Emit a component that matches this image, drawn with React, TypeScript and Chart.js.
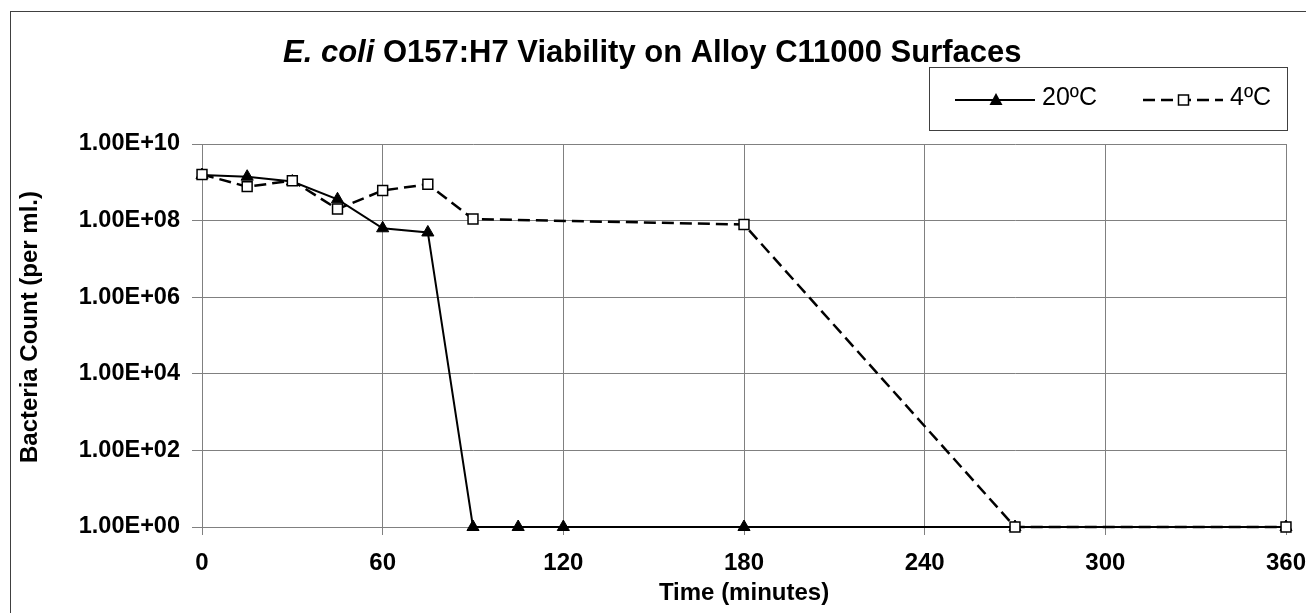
import React, { useEffect, useRef } from "react";
import { Chart, registerables } from "chart.js";

Chart.register(...registerables);

// ---- data ----
const time20 = [0, 15, 30, 45, 60, 75, 90, 105, 120, 180, 270, 360];
const count20 = [1.55e9, 1.4e9, 1.05e9, 3.6e8, 6.3e7, 4.9e7, 1, 1, 1, 1, 1, 1];
const time4 = [0, 15, 30, 45, 60, 75, 90, 180, 270, 360];
const count4 = [1.6e9, 7.7e8, 1.1e9, 2.0e8, 6.1e8, 8.9e8, 1.1e8, 7.9e7, 1, 1];

const seriesNames = ["20ºC", "4ºC"];
const xTickValues = [0, 60, 120, 180, 240, 300, 360];
const yTickValues = [1, 1e2, 1e4, 1e6, 1e8, 1e10];
const yTickLabels = ["1.00E+00", "1.00E+02", "1.00E+04", "1.00E+06", "1.00E+08", "1.00E+10"];

const titleItalic = "E. coli";
const titleRest = " O157:H7 Viability on Alloy C11000 Surfaces";
const xTitle = "Time (minutes)";
const yTitle = "Bacteria Count (per ml.)";

const FAMILY = "'Liberation Sans', Arial, Helvetica, sans-serif";
const GRID = "#808080";

const W = 1306;
const H = 613;

const decorPlugin = {
  id: "decor",
  afterDraw(chart: any) {
    const ctx = chart.ctx as CanvasRenderingContext2D;
    ctx.save();
    // outer frame
    ctx.strokeStyle = "#404040";
    ctx.lineWidth = 1;
    ctx.strokeRect(10.5, 11.5, W + 20, H + 20);

    // title
    ctx.fillStyle = "#000";
    ctx.textBaseline = "alphabetic";
    ctx.textAlign = "left";
    ctx.font = `italic bold 31px ${FAMILY}`;
    const w1 = ctx.measureText(titleItalic).width;
    ctx.fillText(titleItalic, 283, 61.5);
    ctx.font = `bold 31px ${FAMILY}`;
    ctx.fillText(titleRest, 283 + w1, 61.5);

    // y-axis title
    ctx.save();
    ctx.translate(30.5, 327);
    ctx.rotate(-Math.PI / 2);
    ctx.textAlign = "center";
    ctx.textBaseline = "middle";
    ctx.font = `bold 24px ${FAMILY}`;
    ctx.fillText(yTitle, 0, 0);
    ctx.restore();

    // legend box
    ctx.fillStyle = "#fff";
    ctx.fillRect(929.5, 67.5, 358, 63);
    ctx.strokeStyle = "#404040";
    ctx.lineWidth = 1;
    ctx.strokeRect(929.5, 67.5, 358, 63);

    const ly = 100;
    // item 1: solid + triangle
    ctx.strokeStyle = "#000";
    ctx.lineWidth = 2;
    ctx.setLineDash([]);
    ctx.beginPath();
    ctx.moveTo(955, ly);
    ctx.lineTo(1035, ly);
    ctx.stroke();
    ctx.fillStyle = "#000";
    ctx.beginPath();
    ctx.moveTo(996, ly - 7);
    ctx.lineTo(1002.5, ly + 5);
    ctx.lineTo(989.5, ly + 5);
    ctx.closePath();
    ctx.fill();
    ctx.font = `25px ${FAMILY}`;
    ctx.textBaseline = "alphabetic";
    ctx.textAlign = "left";
    ctx.fillText(seriesNames[0], 1042, 105);

    // item 2: dashed + square
    ctx.lineWidth = 2.5;
    ctx.setLineDash([12, 6]);
    ctx.beginPath();
    ctx.moveTo(1143, ly);
    ctx.lineTo(1223, ly);
    ctx.stroke();
    ctx.setLineDash([]);
    ctx.fillStyle = "#fff";
    ctx.fillRect(1178.5, ly - 5, 10, 10);
    ctx.lineWidth = 1.5;
    ctx.strokeRect(1178.5, ly - 5, 10, 10);
    ctx.fillStyle = "#000";
    ctx.fillText(seriesNames[1], 1230, 105);

    ctx.restore();
  },
};

export default function App() {
  const ref = useRef<HTMLCanvasElement | null>(null);

  useEffect(() => {
    if (!ref.current) return;
    const chart = new Chart(ref.current, {
      type: "line",
      data: {
        datasets: [
          {
            label: seriesNames[1],
            data: time4.map((x, i) => ({ x, y: count4[i] })),
            borderColor: "#000",
            borderWidth: 2.5,
            borderDash: [12, 6],
            pointStyle: "rect",
            pointRadius: 7,
            pointBackgroundColor: "#fff",
            pointBorderColor: "#000",
            pointBorderWidth: 1.5,
            tension: 0,
            clip: false,
            order: 0,
          } as any,
          {
            label: seriesNames[0],
            data: time20.map((x, i) => ({ x, y: count20[i] })),
            borderColor: "#000",
            borderWidth: 2,
            pointStyle: "triangle",
            pointRadius: 7,
            pointBackgroundColor: "#000",
            pointBorderColor: "#000",
            pointBorderWidth: 1,
            tension: 0,
            clip: false,
            order: 1,
          } as any,
        ],
      },
      options: {
        animation: false,
        responsive: false,
        devicePixelRatio: 1,
        layout: { padding: { top: 144, right: 20, bottom: 0, left: 0 } },
        plugins: {
          legend: { display: false },
          tooltip: { enabled: false },
          title: { display: false },
        },
        scales: {
          x: {
            type: "linear",
            min: 0,
            max: 360,
            afterBuildTicks: (s: any) => {
              s.ticks = xTickValues.map((v) => ({ value: v }));
            },
            afterFit: (s: any) => {
              s.height = 86;
              s.paddingLeft = 0;
              s.paddingRight = 0;
            },
            grid: { color: GRID, lineWidth: 1, tickLength: 8, drawTicks: true },
            border: { color: GRID, width: 1 },
            ticks: {
              color: "#000",
              font: { family: FAMILY, size: 24, weight: "bold" },
              padding: 14,
              maxRotation: 0,
              autoSkip: false,
            },
            title: {
              display: true,
              text: xTitle,
              color: "#000",
              font: { family: FAMILY, size: 24, weight: "bold" },
              padding: { top: 0, bottom: 5 },
            },
          },
          y: {
            type: "logarithmic",
            min: 1,
            max: 1e10,
            afterBuildTicks: (s: any) => {
              s.ticks = yTickValues.map((v) => ({ value: v }));
            },
            afterFit: (s: any) => {
              s.width = 202;
              s.paddingTop = 0;
              s.paddingBottom = 0;
            },
            grid: { color: GRID, lineWidth: 1, tickLength: 10, drawTicks: true },
            border: { color: GRID, width: 1 },
            ticks: {
              color: "#000",
              font: { family: FAMILY, size: 23.5, weight: "bold" },
              padding: 12,
              autoSkip: false,
              callback: (v: any) => {
                const i = yTickValues.indexOf(Number(v));
                return i >= 0 ? yTickLabels[i] : "";
              },
            },
          },
        },
      } as any,
      plugins: [decorPlugin],
    });
    return () => chart.destroy();
  }, []);

  return (
    <div
      style={{
        position: "fixed",
        left: 0,
        top: 0,
        width: W,
        height: H,
        overflow: "hidden",
        background: "#fff",
      }}
    >
      <canvas ref={ref} width={W} height={H} style={{ display: "block" }} />
    </div>
  );
}
